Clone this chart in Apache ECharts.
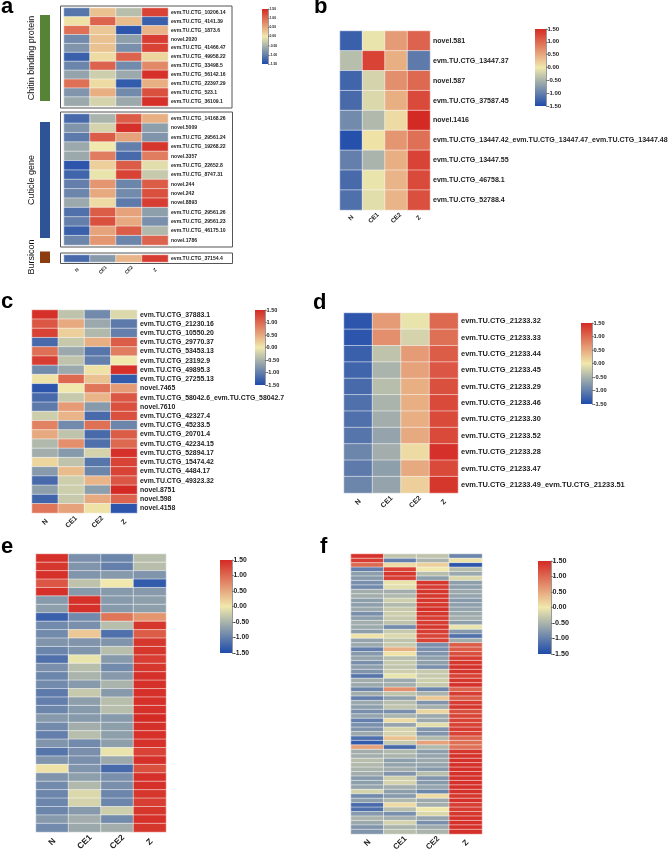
<!DOCTYPE html>
<html><head><meta charset="utf-8">
<style>html,body{margin:0;padding:0;background:#fff}#c{width:669px;height:854px}</style>
<script src="https://cdn.jsdelivr.net/npm/echarts@6/dist/echarts.min.js"></script>
</head><body><div id="c"></div>
<script>
const columns = ['N','CE1','CE2','Z'];
const colorTicksMin = -1.5, colorTicksMax = 1.5, colorTickStep = 0.5;
const rampColors = ['#1e4bab','#f0e8ac','#d42a24'];

const labelsA1 = ['evm.TU.CTG_10206.14','evm.TU.CTG_4141.39','evm.TU.CTG_1873.6','novel.2020','evm.TU.CTG_41466.47','evm.TU.CTG_49958.22','evm.TU.CTG_33498.5','evm.TU.CTG_56142.16','evm.TU.CTG_22397.29','evm.TU.CTG_523.1','evm.TU.CTG_36109.1'];
const valuesA1 = [[-1.1,.3,-.4,1.3],[.05,1.05,.35,-1.3],[.95,.25,-1.4,.4],[-.9,.3,-.7,1.35],[-.8,.3,-.85,1.3],[-1.3,.1,1.05,.15],[-.95,1.05,-.9,.75],[-.65,-.25,-.6,1.45],[.95,.1,-1.35,.45],[-.8,.45,-.9,1.2],[-.6,-.2,-.6,1.45]];

const labelsA2 = ['evm.TU.CTG_14168.26','novel.5009','evm.TU.CTG_29561.24','evm.TU.CTG_19268.22','novel.3357','evm.TU.CTG_22652.8','evm.TU.CTG_8747.31','novel.244','novel.242','novel.8893','evm.TU.CTG_29561.26','evm.TU.CTG_29561.23','evm.TU.CTG_46175.10','novel.1786'];
const valuesA2 = [[-1.2,-.5,1.1,.45],[-.8,-.2,1.45,-.7],[-1.05,1.1,.55,-.8],[-.6,0,-1,1.4],[-.6,.85,-1.2,.85],[-1.4,.2,1.1,-.1],[-1.25,-.05,1.3,-.3],[-1,.65,-.95,1.1],[-.95,.5,-.9,1.2],[-.6,.1,-1.05,1.35],[-1.15,1.1,.55,-.7],[-1,1.2,.5,-.85],[-1.3,.55,1.1,-.45],[-.95,.65,-.95,1.05]];

const labelsA3 = ['evm.TU.CTG_37154.4'];
const valuesA3 = [[-1.2,-.75,.4,1.35]];

const labelsB = ['novel.581','evm.TU.CTG_13447.37','novel.587','evm.TU.CTG_37587.45','novel.1416','evm.TU.CTG_13447.42_evm.TU.CTG_13447.47_evm.TU.CTG_13447.48','evm.TU.CTG_13447.55','evm.TU.CTG_46758.1','evm.TU.CTG_52788.4'];
const valuesB = [[-1.3,-.05,.6,1.05],[-.4,1.3,.45,-1.05],[-1.25,-.2,.7,1],[-1.2,-.15,.45,1.25],[-.9,-.45,.1,1.5],[-1.45,.05,.65,.95],[-1,-.5,.45,1.3],[-1.2,-.05,.4,1.25],[-1.15,-.1,.4,1.2]];

const labelsC = ['evm.TU.CTG_37883.1','evm.TU.CTG_21230.16','evm.TU.CTG_10550.20','evm.TU.CTG_29770.37','evm.TU.CTG_53453.13','evm.TU.CTG_23192.9','evm.TU.CTG_49895.3','evm.TU.CTG_27255.13','novel.7465','evm.TU.CTG_58042.6_evm.TU.CTG_58042.7','novel.7610','evm.TU.CTG_42327.4','evm.TU.CTG_45233.5','evm.TU.CTG_20701.4','evm.TU.CTG_42234.15','evm.TU.CTG_52894.17','evm.TU.CTG_15474.42','evm.TU.CTG_4484.17','evm.TU.CTG_49323.32','novel.8751','novel.598','novel.4158'];
const valuesC = [[1.45,-.35,-.9,-.15],[1.15,.5,-.6,-1.05],[1.3,.2,-.45,-1],[-1.2,-.3,.45,1.1],[.95,-.6,-1.1,.85],[1.35,-.35,-1,0],[-.9,-.6,.05,1.45],[.05,1,.3,-1.35],[-1.4,0,.9,.6],[-1.2,-.3,.4,1.15],[-1.05,.6,-.75,1.2],[-.25,.4,-1.2,1.2],[.8,-.9,.95,-.95],[.5,-.35,-1.2,1.1],[-.45,.7,-1.15,1],[-.55,-.75,-.2,1.45],[.15,-.35,-1.1,1.3],[-.75,.35,-.95,1.3],[-1.2,-.25,.4,1.15],[-.7,-.25,-.7,1.5],[-1.25,-.3,.5,1.05],[.9,.55,.05,-1.4]];

const labelsD = ['evm.TU.CTG_21233.32','evm.TU.CTG_21233.33','evm.TU.CTG_21233.44','evm.TU.CTG_21233.45','evm.TU.CTG_21233.29','evm.TU.CTG_21233.46','evm.TU.CTG_21233.30','evm.TU.CTG_21233.52','evm.TU.CTG_21233.28','evm.TU.CTG_21233.47','evm.TU.CTG_21233.49_evm.TU.CTG_21233.51'];
const valuesD = [[-1.4,.6,-.05,1],[-1.4,.7,-.2,.95],[-1.3,-.35,.6,1.1],[-1.25,-.5,.55,1.15],[-1.2,-.4,.45,1.2],[-1.15,-.5,.45,1.25],[-1.15,-.55,.45,1.25],[-1.1,-.65,.5,1.25],[-.95,-.55,.1,1.45],[-1.05,-.7,.5,1.25],[-.95,-.65,.2,1.4]];

const valuesE = [[1.45,-.85,-.95,-.4],[1.4,-.8,-1,-.4],[1.45,-.8,-.75,-.8],[1.15,-.35,0,-1.35],[1.45,-.75,-.75,-.75],[-.75,1.45,-.75,-.7],[-.7,1.45,-.75,-.7],[-1.3,-.9,.9,.65],[-.9,-.85,-.4,1.4],[-.9,.25,-1.15,1.1],[-.8,-.8,-.8,1.4],[-.95,-.8,-.4,1.4],[-1.15,-.05,-.75,1.35],[-.85,-.4,-.9,1.4],[-.95,-.5,-.75,1.45],[-.9,-.75,-.5,1.45],[-1.05,-.3,-.75,1.45],[-1,-.7,-.4,1.45],[-.95,-.75,-.4,1.45],[-.75,-.75,-.75,1.5],[-.9,-.55,-.7,1.45],[-1,-.4,-.7,1.45],[-.8,-.9,-.7,1.45],[-1.1,-.85,-.05,1.3],[-.8,-.85,-.6,1.45],[.05,-.8,-1.2,1.2],[-.8,-.7,-.85,1.45],[-.9,-.45,-.85,1.45],[-.95,-.15,-.95,1.4],[-.95,-.2,-.95,1.35],[-.95,-.75,-.25,1.4],[-.75,-.55,-.9,1.45],[-.9,-.6,-.55,1.4]];

const valuesF = [[1.45,-.35,-.35,-.95],[1.35,-1,-.5,.05],[1,.1,.2,-1.4],[-1,1.3,0,-.4],[-.7,1.4,-.4,-.6],[-.75,1.35,-.7,-.15],[-.85,-.05,1.4,-.7],[-.9,-.1,1.35,-.7],[-.55,-.55,1.4,-.6],[-.55,-.45,1.4,-.65],[-.7,-.25,1.4,-.75],[-.7,-.45,1.4,-.7],[-.6,-.3,1.45,-.65],[-.85,-.25,1.4,-.6],[-.7,-.3,1.35,-.55],[-.55,-.35,1.35,-.7],[-.6,-.9,1.4,-.05],[-.7,-.3,1.35,-.75],[.05,-.15,1.3,-1.15],[-.65,-.35,1.3,-.55],[-.6,-.3,-.85,1.1],[-1,.45,-.85,1.1],[-.75,.05,-.8,1.2],[-.65,-.4,-.7,1.35],[-.85,-.3,-.7,1.4],[-.7,-.35,-.85,1.45],[-.8,-.25,-.3,1.4],[-1.1,-.05,-.3,1.3],[-.55,-.6,-.25,1.4],[-.6,-.55,-.3,1.45],[-.95,.7,-.95,1.05],[-.55,-.35,-.5,1.35],[-1,-.7,.25,1.1],[-.6,-.4,-.8,1.35],[-.7,-.35,-.55,1.4],[-.85,-.85,.15,1.2],[-.65,-.5,-.6,1.3],[-1,.1,-.6,1.3],[-.85,-.65,-.1,1.3],[-.8,-.2,-.8,1.35],[-.6,-.2,-.8,1.3],[-1.15,.3,-.45,1.05],[-1.35,-.3,.55,.95],[.55,-1.2,-.45,.95],[-.55,-.45,-.7,1.4],[-.55,-.5,-.65,1.45],[-.4,-.7,-.6,1.45],[-.45,-.65,-.65,1.45],[-.5,-.55,-.75,1.45],[-.55,-.8,-.4,1.45],[-.75,-.25,-.8,1.45],[-.7,-.2,-.75,1.45],[-.65,-.55,-.65,1.45],[-.2,-.7,-.95,1.45],[-.9,-.75,.1,1.4],[-.7,-.45,-.6,1.45],[-1.2,.1,-.55,1.35],[-1.15,-.4,0,1.35],[-.75,-.85,-.15,1.4],[-.5,-.55,-.65,1.45],[-.6,-.2,-.85,1.45],[-.8,-.5,-.6,1.45],[-.8,-.4,-.5,1.45]];

const FONT = '"Liberation Sans", Arial, sans-serif';
const heatmaps = [
 {values:valuesA1,labels:labelsA1,box:[64,8,104,98],font:5.1,xfont:0},
 {values:valuesA2,labels:labelsA2,box:[64,114,104,131],font:5.1,xfont:0},
 {values:valuesA3,labels:labelsA3,box:[64,255,104,7],font:5.1,xfont:4.8,xm:8},
 {values:valuesB,labels:labelsB,box:[340,31,90,179],font:7.05,xfont:6.3,xm:8},
 {values:valuesC,labels:labelsC,box:[32,310,105,203],font:6.9,xfont:7,xm:9},
 {values:valuesD,labels:labelsD,box:[344,313,114,180],font:7.45,xfont:7,xm:9},
 {values:valuesE,labels:null,box:[36,554,130,278],font:0,xfont:8.5,xm:10},
 {values:valuesF,labels:null,box:[351,554,131,280],font:0,xfont:8,xm:9}
];
const colorbars = [
 {series:[0,1,2],box:[262,9,6,55],font:3.4},
 {series:[3],box:[535,29,11,77],font:6},
 {series:[4],box:[255,310,10,75],font:5.6},
 {series:[5],box:[581,323,11,81],font:5.8},
 {series:[6],box:[220,560,12,93],font:6.8},
 {series:[7],box:[538,561,13,93],font:7.2}
];

const grid=[],xAxis=[],yAxis=[],series=[],visualMap=[],graphic=[];
heatmaps.forEach((h,i)=>{
  const [l,t,w,ht]=h.box;
  grid.push({left:l,top:t,width:w,height:ht,containLabel:false,outerBoundsMode:'none'});
  xAxis.push({type:'category',gridIndex:i,data:columns,position:'bottom',
    axisLine:{show:false},axisTick:{show:false},splitLine:{show:false},
    axisLabel:{show:h.xfont>0,interval:0,rotate:45,align:'center',verticalAlign:'middle',margin:h.xm||8,hideOverlap:false,
      fontFamily:FONT,fontWeight:'bold',fontSize:h.xfont||5,color:'#222'}});
  const cats=h.labels||h.values.map((_,r)=>'r'+r);
  yAxis.push({type:'category',gridIndex:i,data:cats,inverse:true,position:'right',
    axisLine:{show:false},axisTick:{show:false},splitLine:{show:false},
    axisLabel:{show:!!h.labels,interval:0,margin:3,hideOverlap:false,fontFamily:FONT,fontWeight:'bold',fontSize:h.font||5,color:'#222'}});
  const data=[];
  h.values.forEach((row,r)=>row.forEach((v,c)=>data.push([c,r,v])));
  series.push({type:'heatmap',xAxisIndex:i,yAxisIndex:i,data,animation:false,silent:true,
    progressive:0,emphasis:{disabled:true},itemStyle:{borderColor:'rgba(255,255,255,0.85)',borderWidth:0.6}});
});
colorbars.forEach(cb=>{
  const [l,t,w,ht]=cb.box;
  const gi=grid.length;
  grid.push({left:l,top:t,width:w,height:ht,containLabel:false,outerBoundsMode:'none'});
  xAxis.push({type:'category',gridIndex:gi,data:[''],show:false});
  yAxis.push({type:'value',gridIndex:gi,position:'right',min:colorTicksMin,max:colorTicksMax,interval:colorTickStep,
    splitLine:{show:false},
    axisLine:{show:true,onZero:false,lineStyle:{color:'#555',width:0.6}},
    axisTick:{show:true,length:Math.max(1.5,cb.font/3),lineStyle:{color:'#555',width:0.6}},
    axisLabel:{show:true,margin:1.5,showMinLabel:true,showMaxLabel:true,hideOverlap:false,fontFamily:FONT,fontWeight:'bold',fontSize:cb.font,color:'#222',
      formatter:v=>v.toFixed(2)}});
  visualMap.push({type:'continuous',show:false,seriesIndex:cb.series,min:colorTicksMin,max:colorTicksMax,inRange:{color:rampColors}});
  graphic.push({type:'rect',z:0,shape:{x:l,y:t,width:w,height:ht},style:{fill:new echarts.graphic.LinearGradient(0,1,0,0,
    rampColors.map((c,i)=>({offset:i/(rampColors.length-1),color:c})))}});
});

const letters=[['a',1,18],['b',314,18],['c',1,313],['d',313,314],['e',1,558],['f',320,558]];
const boxes=[[60.5,6,171.5,102],[60.5,112,172,135],[60.5,253,172,10.5]];
const groupBars=[[40,15,10,86,'#558436'],[40,122,10,116,'#2f5496'],[40,251.5,10,11.5,'#8b3d10']];
const groupLabels=[['Chitin binding protein',32,58],['Cuticle gene',32,180],['Bursicon',32,257]];
letters.forEach(([t,x,y])=>graphic.push({type:'text',x,y,style:{text:t,fontFamily:FONT,fontWeight:'bold',fontSize:22,fill:'#000',verticalAlign:'bottom'}}));
boxes.forEach(([x,y,w,ht])=>graphic.push({type:'rect',shape:{x,y,width:w,height:ht},style:{fill:null,stroke:'#555',lineWidth:1}}));
groupBars.forEach(([x,y,w,ht,c])=>graphic.push({type:'rect',shape:{x,y,width:w,height:ht},style:{fill:c}}));
groupLabels.forEach(([t,x,y])=>graphic.push({type:'text',x,y,rotation:Math.PI/2,style:{text:t,fontFamily:FONT,fontSize:9,fill:'#111',align:'center',verticalAlign:'middle'}}));

const chart=echarts.init(document.getElementById('c'),null,{renderer:'canvas',width:669,height:854});
chart.setOption({animation:false,backgroundColor:'#fff',grid,xAxis,yAxis,series,visualMap,graphic});
</script></body></html>
